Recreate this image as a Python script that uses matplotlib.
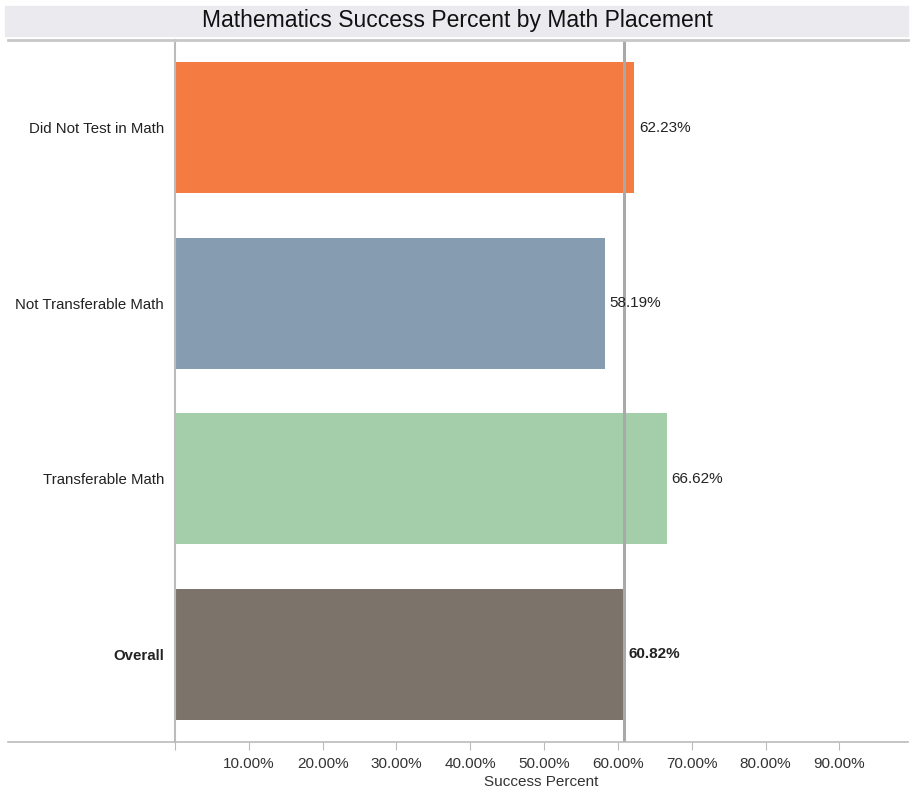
import matplotlib
matplotlib.use("Agg")
import matplotlib.pyplot as plt
from matplotlib.lines import Line2D
from matplotlib.patches import Rectangle

plt.rcParams['font.family'] = ['Liberation Sans', 'DejaVu Sans']

categories = ["Did Not Test in Math", "Not Transferable Math", "Transferable Math", "Overall"]
values = [62.23, 58.19, 66.62, 60.82]
colors = ["#F47C43", "#869DB1", "#A3CEA9", "#7C746B"]
reference = 60.82
xticks = [10, 20, 30, 40, 50, 60, 70, 80, 90]

W, H = 912, 794
fig = plt.figure(figsize=(W / 100, H / 100), dpi=100)
ax = fig.add_axes([175 / W, 1 - 742 / H, (908 - 175) / W, (742 - 40) / H])

y = list(range(len(categories)))
ax.barh(y, values, height=0.746, color=colors, zorder=2)
ax.set_ylim(len(categories) - 0.5, -0.5)
ax.set_xlim(0, 99.3)
ax.axvline(reference, color="#A9A9A9", lw=2.2, zorder=3)

for i, (v, cat) in enumerate(zip(values, categories)):
    bold = cat == "Overall"
    ax.text(v + 0.6, i, f"{v:.2f}%", va="center", ha="left", fontsize=11,
            fontweight="bold" if bold else "normal", color="#222222", zorder=4)

ax.set_yticks(y)
ax.set_yticklabels(categories, fontsize=10.8, color="#222222")
for lab in ax.get_yticklabels():
    if lab.get_text() == "Overall":
        lab.set_fontweight("bold")
ax.tick_params(axis="y", length=0, pad=8)

ax.set_xticks([0] + xticks)
ax.set_xticklabels([""] + [f"{t:.2f}%" for t in xticks], fontsize=11, color="#333333")
ax.tick_params(axis="x", length=6, color="#BBBBBB", pad=5)
ax.set_xlabel("Success Percent", fontsize=11, color="#333333", labelpad=3)

for s in ["top", "right", "bottom"]:
    ax.spines[s].set_visible(False)
ax.spines["left"].set_color("#BBBBBB")
ax.spines["left"].set_linewidth(1.5)

# frame lines spanning the label area
fig.add_artist(Line2D([8 / W, 908 / W], [1 - 742 / H] * 2, color="#BBBBBB", lw=1.2))
fig.add_artist(Line2D([8 / W, 908 / W], [1 - 40 / H] * 2, color="#C8C8C8", lw=2))

# title band
fig.add_artist(Rectangle((5 / W, 1 - 36 / H), (908 - 5) / W, 30 / H,
                         color="#EBEBEF", transform=fig.transFigure, zorder=0))
fig.text(457 / W, 1 - 21 / H, "Mathematics Success Percent by Math Placement",
         ha="center", va="center", fontsize=16.5, color="#111111")

fig.savefig("out.png", dpi=100)
